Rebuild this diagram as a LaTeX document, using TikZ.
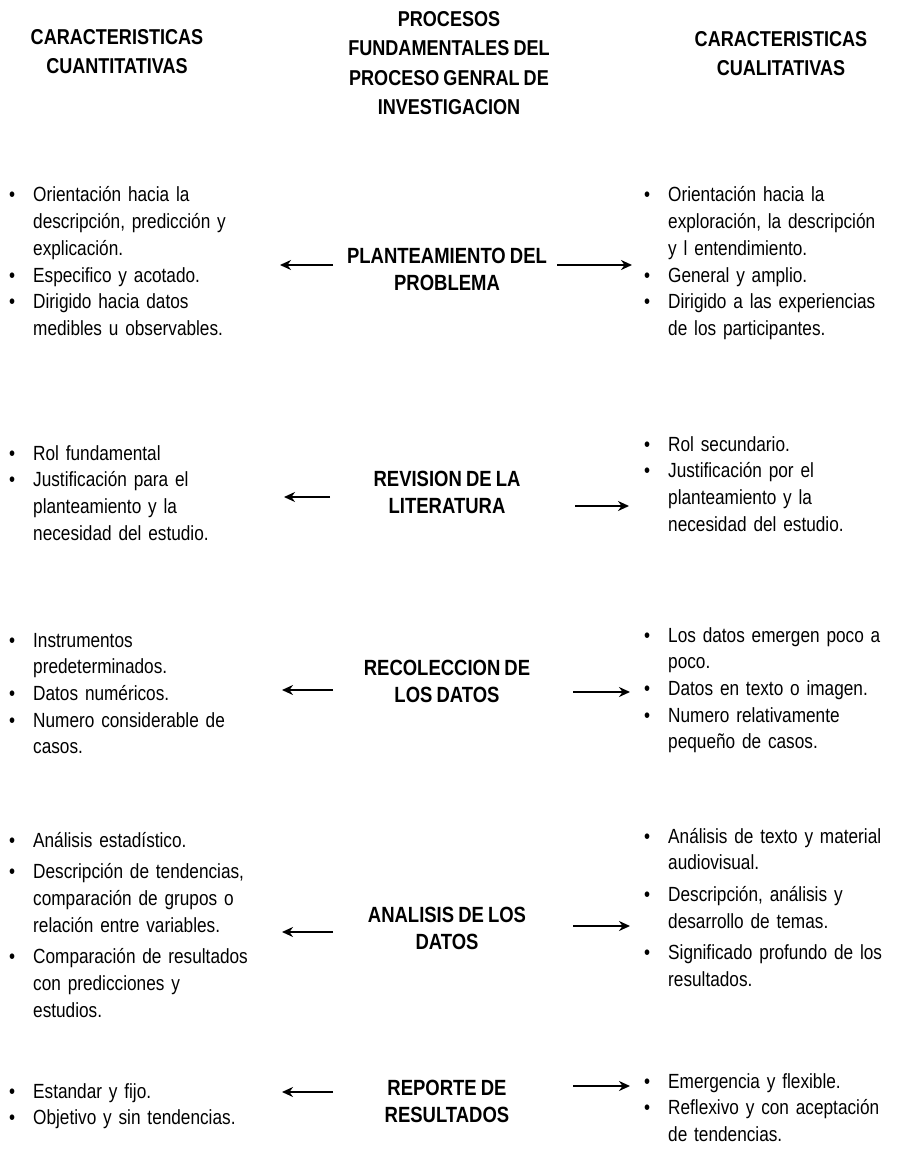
\documentclass[tikz,border=0pt]{standalone}
\usepackage{fontspec}
\setmainfont{Liberation Sans}[FakeStretch=0.84,WordSpace=0.8]
\usepackage{tikz}
\usetikzlibrary{arrows.meta}

\newcommand{\punto}[1]{\raggedright\hangindent=24pt\hangafter=1\noindent\makebox[24pt][l]{\textbullet}#1\par}

\begin{document}
\begin{tikzpicture}[
			x=1pt, y=-1pt,
			lista/.style={
				anchor=base west,
				inner sep=0pt,
				text width=260pt,
				align=left,
				font=\fontsize{20.5}{26.7}\selectfont
			},
			listasep/.style={
				lista,
				execute at begin node={\setlength{\parskip}{5pt}}
			},
			proceso/.style={
				anchor=base,
				inner sep=0pt,
				align=center,
				font=\fontsize{22}{26.7}\selectfont\bfseries
			},
			titulo/.style={
				anchor=base,
				inner sep=0pt,
				align=center,
				font=\fontsize{21.5}{29.5}\selectfont\bfseries
			},
			flecha/.style={-{Stealth[length=11pt,width=10pt]},line width=2.2pt}
			]
			
			\useasboundingbox (0,0) rectangle (903,1150);
			
			\node[titulo] (cuanti) at (117,74) {CARACTERISTICAS\\CUANTITATIVAS};
			\node[titulo] (procesos) at (449,115) {PROCESOS\\FUNDAMENTALES DEL\\PROCESO GENRAL DE\\INVESTIGACION};
			\node[titulo] (cuali) at (781,76) {CARACTERISTICAS\\CUALITATIVAS};
			
			\node[proceso] (plant) at (447,290) {PLANTEAMIENTO DEL\\PROBLEMA};
			\node[lista] (plantL) at (9,202) {\punto{Orientación hacia la\newline descripción, predicción y\newline explicación.}\punto{Especifico y acotado.}\punto{Dirigido hacia datos\newline medibles u observables.}};
			\node[lista] (plantR) at (644,202) {\punto{Orientación hacia la\newline exploración, la descripción\newline y l entendimiento.}\punto{General y amplio.}\punto{Dirigido a las experiencias\newline de los participantes.}};
			\coordinate (plantL1) at (333,265);
			\coordinate (plantL2) at (280,265);
			\coordinate (plantR1) at (557,265);
			\coordinate (plantR2) at (632,265);
			
			\node[proceso] (revis) at (447,513) {REVISION DE LA\\LITERATURA};
			\node[lista] (revisL) at (9,460) {\punto{Rol fundamental}\punto{Justificación para el\newline planteamiento y la\newline necesidad del estudio.}};
			\node[lista] (revisR) at (644,451) {\punto{Rol secundario.}\punto{Justificación por el\newline planteamiento y la\newline necesidad del estudio.}};
			\coordinate (revisL1) at (330,497);
			\coordinate (revisL2) at (284,497);
			\coordinate (revisR1) at (575,506);
			\coordinate (revisR2) at (629,506);
			
			\node[proceso] (recol) at (447,702) {RECOLECCION DE\\LOS DATOS};
			\node[lista] (recolL) at (9,647) {\punto{Instrumentos\newline predeterminados.}\punto{Datos numéricos.}\punto{Numero considerable de\newline casos.}};
			\node[lista] (recolR) at (644,642) {\punto{Los datos emergen poco a\newline poco.}\punto{Datos en texto o imagen.}\punto{Numero relativamente\newline pequeño de casos.}};
			\coordinate (recolL1) at (333,690);
			\coordinate (recolL2) at (282,690);
			\coordinate (recolR1) at (573,692);
			\coordinate (recolR2) at (630,692);
			
			\node[proceso] (anal) at (447,949) {ANALISIS DE LOS\\DATOS};
			\node[listasep] (analL) at (9,847) {\punto{Análisis estadístico.}\punto{Descripción de tendencias,\newline comparación de grupos o\newline relación entre variables.}\punto{Comparación de resultados\newline con predicciones y\newline estudios.}};
			\node[listasep] (analR) at (644,843) {\punto{Análisis de texto y material\newline audiovisual.}\punto{Descripción, análisis y\newline desarrollo de temas.}\punto{Significado profundo de los\newline resultados.}};
			\coordinate (analL1) at (333,932);
			\coordinate (analL2) at (282,932);
			\coordinate (analR1) at (573,926);
			\coordinate (analR2) at (630,926);
			
			\node[proceso] (repor) at (447,1122) {REPORTE DE\\RESULTADOS};
			\node[lista] (reporL) at (9,1098) {\punto{Estandar y fijo.}\punto{Objetivo y sin tendencias.}};
			\node[lista] (reporR) at (644,1088) {\punto{Emergencia y flexible.}\punto{Reflexivo y con aceptación\newline de tendencias.}};
			\coordinate (reporL1) at (333,1092);
			\coordinate (reporL2) at (282,1092);
			\coordinate (reporR1) at (573,1086);
			\coordinate (reporR2) at (630,1086);
			
			\foreach \f in {plant,revis,recol,anal,repor}{
				\draw[flecha] (\f L1) -- (\f L2);
				\draw[flecha] (\f R1) -- (\f R2);
			}
			
		\end{tikzpicture}
\end{document}
